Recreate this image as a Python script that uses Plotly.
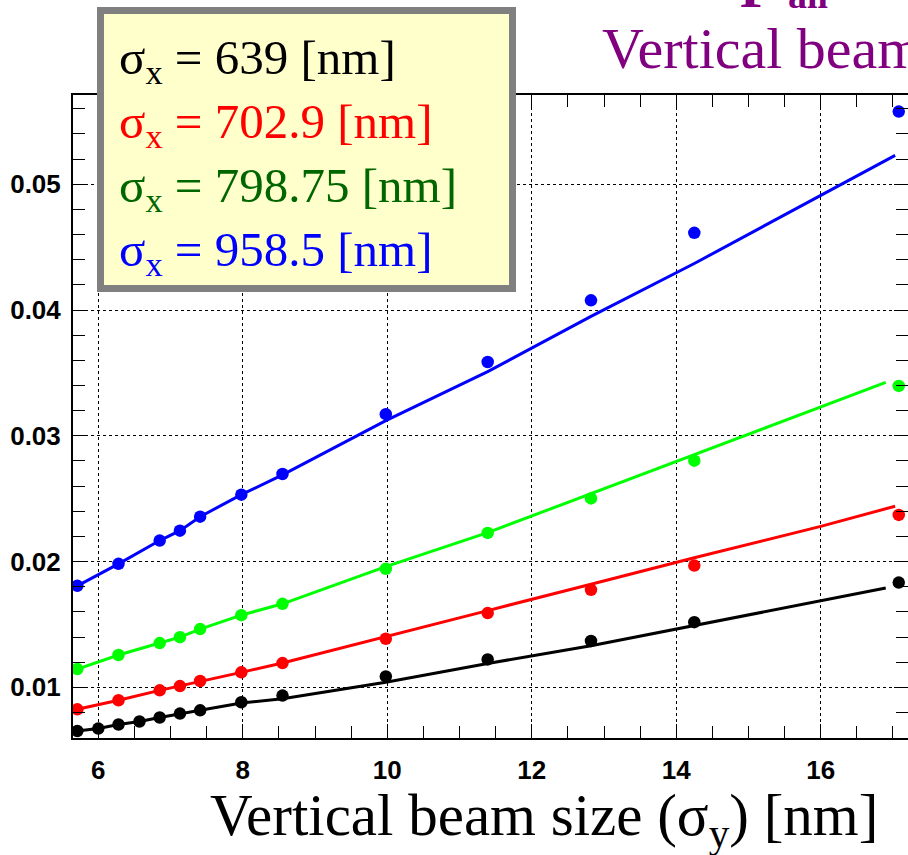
import plotly.graph_objects as go

# ---------------- data ----------------
sigma_y_black = [5.71, 6.0, 6.28, 6.57, 6.85, 7.13, 7.41, 7.98, 8.55, 9.98, 11.39, 12.82, 14.25, 17.08]
sigma_y = [5.71, 6.28, 6.85, 7.13, 7.41, 7.98, 8.55, 9.98, 11.39, 12.82, 14.25, 17.08]

val_639 = [0.00653, 0.00672, 0.00704, 0.00728, 0.00760, 0.00791, 0.00817, 0.00881, 0.00934,
           0.01087, 0.01222, 0.01368, 0.01518, 0.01833]
val_702 = [0.00825, 0.00897, 0.00976, 0.01010, 0.01050, 0.01119, 0.01193, 0.01386, 0.01590,
           0.01775, 0.01968, 0.02371]
val_798 = [0.01145, 0.01257, 0.01352, 0.01399, 0.01463, 0.01574, 0.01664, 0.01942, 0.02228,
           0.02502, 0.02802, 0.03397]
val_958 = [0.01807, 0.01982, 0.02167, 0.02246, 0.02357, 0.02532, 0.02696, 0.03172, 0.03587,
           0.04077, 0.04614, 0.05578]

# fitted curves
line_x_639 = [5.71, 6.0, 6.28, 6.57, 6.85, 7.13, 7.41, 7.98, 8.55, 9.98, 11.39, 12.82, 14.25, 16.0, 16.9]
line_y_639 = [0.00653, 0.00672, 0.00704, 0.00728, 0.00760, 0.00791, 0.00817, 0.00875, 0.0091,
              0.0104, 0.0119, 0.0133, 0.0149, 0.0169, 0.0179]
line_x_702 = [5.71, 6.28, 6.85, 7.13, 7.41, 7.98, 8.55, 9.98, 11.39, 12.82, 14.25, 16.0, 17.03]
line_y_702 = [0.00825, 0.00897, 0.00976, 0.01010, 0.01050, 0.01119, 0.01193, 0.0140, 0.0161,
              0.0182, 0.0203, 0.0228, 0.0244]
line_x_798 = [5.71, 6.28, 6.85, 7.13, 7.41, 7.98, 8.55, 9.98, 11.39, 12.82, 14.25, 16.0, 16.9]
line_y_798 = [0.01145, 0.01257, 0.01352, 0.01399, 0.01463, 0.01574, 0.01664, 0.0196, 0.0223,
              0.0254, 0.0285, 0.0323, 0.03425]
line_x_958 = [5.71, 6.28, 6.85, 7.13, 7.41, 7.98, 8.55, 9.98, 11.39, 12.82, 14.25, 16.0, 17.03]
line_y_958 = [0.01807, 0.01982, 0.02167, 0.02246, 0.02357, 0.02532, 0.0269, 0.0312, 0.0351,
              0.0395, 0.0437, 0.0491, 0.0523]

legend_labels = ["639", "702.9", "798.75", "958.5"]
x_title = "Vertical beam size (σ<sub>y</sub>) [nm]"
title_text = "Vertical beam size"

X_RANGE = [5.65, 17.208]
Y_RANGE = [0.00597, 0.0571]

# ---------------- figure ----------------
W, H = 908, 855
ML, MR, MT, MB = 73, 0, 95, 117
SERIF = "Liberation Serif, Times New Roman, serif"


def pxx(x):
    return (x - ML) / (W - ML - MR)


def pxy(y):
    return (H - MB - y) / (H - MT - MB)


series = [
    (sigma_y_black, val_639, line_x_639, line_y_639, "#000000", "#000000"),
    (sigma_y, val_702, line_x_702, line_y_702, "#ff0000", "#ff0000"),
    (sigma_y, val_798, line_x_798, line_y_798, "#00ff00", "#006600"),
    (sigma_y, val_958, line_x_958, line_y_958, "#0000ff", "#0000ff"),
]

fig = go.Figure()
for xs, ys, lx, ly, col, _ in series:
    fig.add_trace(go.Scatter(x=lx, y=ly, mode="lines", line=dict(color=col, width=3),
                             showlegend=False, hoverinfo="skip"))
for i, (xs, ys, lx, ly, col, _) in enumerate(series):
    fig.add_trace(go.Scatter(x=xs, y=ys, mode="markers",
                             marker=dict(color=col, size=12.5, line=dict(width=0)),
                             showlegend=False,
                             yaxis="y2" if i == len(series) - 1 else "y"))

tickfont = dict(family="Liberation Sans", size=26, color="black", weight="bold")

fig.update_layout(
    width=W, height=H,
    margin=dict(l=ML, r=MR, t=MT, b=MB, pad=0),
    paper_bgcolor="white", plot_bgcolor="white",
    showlegend=False,
    xaxis=dict(range=X_RANGE, tick0=0, dtick=2, ticks="inside", ticklen=14, tickwidth=1,
               tickcolor="black", showline=True, linecolor="black", linewidth=2,
               mirror="ticks", showgrid=True, gridcolor="black", griddash="dot", gridwidth=1,
               zeroline=False, tickfont=tickfont, ticklabelstandoff=8,
               minor=dict(dtick=0.5, tick0=0, ticks="inside", ticklen=12, tickcolor="black",
                          tickwidth=1, showgrid=False)),
    yaxis=dict(range=Y_RANGE, tick0=0, dtick=0.01, tickformat=".2f", ticks="inside",
               ticklen=14, tickwidth=1, tickcolor="black", showline=True, linecolor="black",
               linewidth=2, showgrid=True, gridcolor="black", griddash="dot", gridwidth=1,
               zeroline=False, tickfont=tickfont, ticklabelstandoff=5,
               minor=dict(dtick=0.002, tick0=0, ticks="inside", ticklen=12, tickcolor="black",
                          tickwidth=1, showgrid=False)),
    yaxis2=dict(range=Y_RANGE, overlaying="y", side="right", tick0=0, dtick=0.01,
                ticks="inside", ticklen=14, tickcolor="black", showline=False,
                showticklabels=False, showgrid=False, zeroline=False,
                minor=dict(dtick=0.002, tick0=0, ticks="inside", ticklen=12,
                           tickcolor="black", showgrid=False)),
)

# legend box
fig.add_shape(type="rect", xref="paper", yref="paper",
              x0=pxx(100.5), x1=pxx(512.5), y0=pxy(288.5), y1=pxy(10.5),
              line=dict(color="#808080", width=7), fillcolor="#ffffcc", layer="above")
for k, (s, lab) in enumerate(zip(series, legend_labels)):
    fig.add_annotation(xref="paper", yref="paper", x=pxx(117), y=pxy(60 + 64 * k),
                       xanchor="left", yanchor="middle", showarrow=False,
                       text="σ<sub>x</sub> = " + lab + " [nm]",
                       font=dict(family=SERIF, size=49, color=s[5]))

# x-axis title
fig.add_annotation(xref="paper", yref="paper", x=pxx(880), y=pxy(819),
                   xanchor="right", yanchor="middle", showarrow=False, text=x_title,
                   font=dict(family=SERIF, size=59, color="black"))

# title (cropped)
fig.add_annotation(xref="paper", yref="paper", x=pxx(600), y=pxy(48),
                   xanchor="left", yanchor="middle", showarrow=False, text=title_text,
                   font=dict(family=SERIF, size=58, color="#800080"))
fig.add_annotation(xref="paper", yref="paper", x=pxx(738), y=pxy(-12),
                   xanchor="left", yanchor="middle", showarrow=False, text="<b>P</b>",
                   font=dict(family=SERIF, size=56, color="#800080"))
fig.add_annotation(xref="paper", yref="paper", x=pxx(786), y=pxy(-5),
                   xanchor="left", yanchor="middle", showarrow=False, text="<b>all</b>",
                   font=dict(family=SERIF, size=38, color="#800080"))

fig.write_html("out.html")
